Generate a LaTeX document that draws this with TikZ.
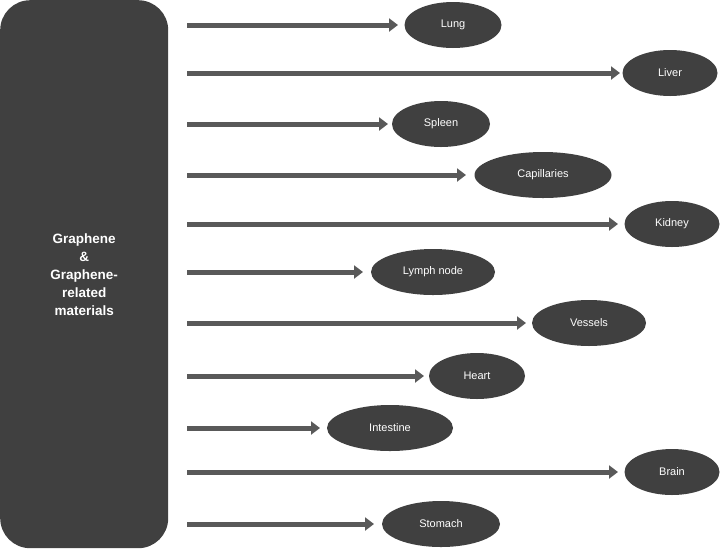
\documentclass[tikz,border=0pt]{standalone}
\usepackage{fontspec}
\setmainfont{Liberation Sans}
\usetikzlibrary{arrows.meta,shapes.geometric}
\definecolor{boxgray}{HTML}{404040}
\definecolor{arrowgray}{HTML}{595959}
\tikzset{
  organ/.style={ellipse, fill=boxgray, text=white, minimum height=46pt, inner sep=0pt, font=\fontsize{11pt}{13pt}\selectfont},
  feed/.style={draw=arrowgray, line width=5pt, -{Triangle[length=9pt,width=13pt]}}
}
\begin{document}
\begin{tikzpicture}[x=1pt,y=-1pt]
  \useasboundingbox (0,0) rectangle (720,550);
  % Source block
  \node[fill=boxgray, rounded corners=30pt, minimum width=168pt, minimum height=548pt, text=white,
        align=center, font=\bfseries\fontsize{13.5pt}{18pt}\selectfont, anchor=north west] (src) at (0,0)
        {Graphene\\\&\\Graphene-\\related\\materials};
  % Targets: name/center x/y/width/arrow end
  \foreach \name/\lbl/\cx/\cy/\w/\tip in {
      lung/Lung/453/25/97/398,
      liver/Liver/670/73/95/620,
      spleen/Spleen/441/124/98/388,
      cap/Capillaries/543/175/137/466,
      kidney/Kidney/672/224/95/618,
      lymph/Lymph node/433/272/124/363,
      vessels/Vessels/589/323/114/526,
      heart/Heart/477/376/96/424,
      intestine/Intestine/390/428/126/320,
      brain/Brain/672/472/95/618,
      stomach/Stomach/441/524/118/374} {
    \node[organ, minimum width=\w pt] (\name) at (\cx,\cy) {\lbl};
    \coordinate (\name-s) at (187,\cy);
    \coordinate (\name-e) at (\tip,\cy);
    \draw[feed] (\name-s) -- (\name-e);
  }
\end{tikzpicture}
\end{document}
